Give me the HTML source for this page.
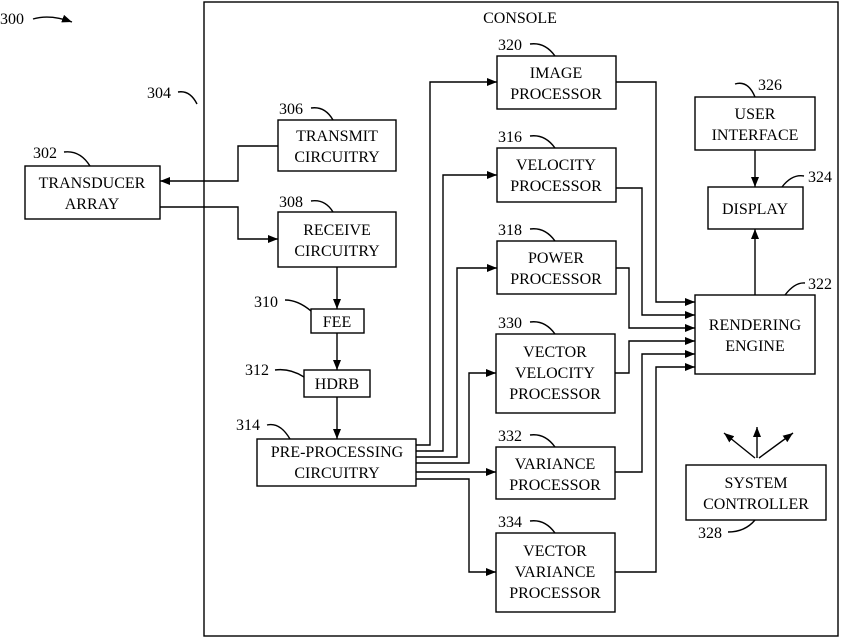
<!DOCTYPE html>
<html><head><style>
body{margin:0;background:#fff}
svg text{font-family:"Liberation Serif",serif;font-size:16px;fill:#000}
</style></head><body>
<svg width="842" height="639" viewBox="0 0 842 639" xmlns="http://www.w3.org/2000/svg">
<defs><marker id="a" markerWidth="10" markerHeight="8" refX="10" refY="4" orient="auto" markerUnits="userSpaceOnUse"><path d="M0,0 L10,4 L0,8 z" fill="#000"/></marker></defs>
<g fill="none" stroke="#000" stroke-width="1.4">
<rect x="204" y="2" width="634" height="634"/>
<rect x="25" y="166" width="135" height="53"/>
<rect x="278" y="120" width="118" height="51"/>
<rect x="278" y="212" width="118" height="55"/>
<rect x="311" y="309" width="53" height="24"/>
<rect x="304" y="370" width="66" height="27"/>
<rect x="257" y="439" width="159" height="47"/>
<rect x="497" y="56" width="119" height="53"/>
<rect x="497" y="148" width="119" height="54"/>
<rect x="497" y="241" width="119" height="53"/>
<rect x="496" y="334" width="119" height="79"/>
<rect x="496" y="447" width="119" height="52"/>
<rect x="496" y="533" width="119" height="79"/>
<rect x="695" y="97" width="120" height="53"/>
<rect x="708" y="187" width="95" height="42"/>
<rect x="695" y="295" width="120" height="79"/>
<rect x="686" y="465" width="140" height="55"/>
<path d="M278,146 H238 V181 H160" marker-end="url(#a)"/>
<path d="M160,207 H238 V239 H278" marker-end="url(#a)"/>
<path d="M337,267 V309" marker-end="url(#a)"/>
<path d="M337,333 V370" marker-end="url(#a)"/>
<path d="M337,397 V439" marker-end="url(#a)"/>
<path d="M416,445 H430 V82 H497" marker-end="url(#a)"/>
<path d="M416,451 H443 V175 H497" marker-end="url(#a)"/>
<path d="M416,457 H457 V268 H497" marker-end="url(#a)"/>
<path d="M416,463 H469 V373 H496" marker-end="url(#a)"/>
<path d="M416,472 H496" marker-end="url(#a)"/>
<path d="M416,479 H469 V572 H496" marker-end="url(#a)"/>
<path d="M616,82 H656 V302 H695" marker-end="url(#a)"/>
<path d="M616,188 H642 V315 H695" marker-end="url(#a)"/>
<path d="M616,268 H629 V328 H695" marker-end="url(#a)"/>
<path d="M615,373 H629 V341 H695" marker-end="url(#a)"/>
<path d="M615,472 H642 V354 H695" marker-end="url(#a)"/>
<path d="M615,572 H656 V367 H695" marker-end="url(#a)"/>
<path d="M755,150 V187" marker-end="url(#a)"/>
<path d="M755,295 V229" marker-end="url(#a)"/>
<path d="M755,458 L724,433" marker-end="url(#a)"/>
<path d="M757,458 V427" marker-end="url(#a)"/>
<path d="M759,458 L793,433" marker-end="url(#a)"/>
<path d="M33,19 Q50,14 72,22" marker-end="url(#a)"/>
<path d="M178,92 Q190,90 197,104"/>
<path d="M64,152 Q80,150 90,166"/>
<path d="M311,108 Q325,106 333,120"/>
<path d="M311,201 Q325,199 333,212"/>
<path d="M285,300 Q298,300 311,311"/>
<path d="M275,370 Q290,368 304,377"/>
<path d="M267,425 Q280,422 290,439"/>
<path d="M530,44 Q545,42 555,56"/>
<path d="M530,136 Q545,134 555,148"/>
<path d="M530,229 Q545,227 555,241"/>
<path d="M530,322 Q545,320 555,334"/>
<path d="M530,435 Q545,433 555,447"/>
<path d="M530,521 Q545,519 555,533"/>
<path d="M735,84 Q748,80 755,97"/>
<path d="M782,187 Q792,174 804,176"/>
<path d="M785,295 Q795,282 805,283"/>
<path d="M728,532 Q745,532 755,520"/>
</g>
<g text-anchor="middle">
<text x="520" y="23">CONSOLE</text>
<text x="92" y="188">TRANSDUCER</text><text x="92" y="209">ARRAY</text>
<text x="337" y="141">TRANSMIT</text><text x="337" y="162">CIRCUITRY</text>
<text x="337" y="235">RECEIVE</text><text x="337" y="256">CIRCUITRY</text>
<text x="337" y="327">FEE</text>
<text x="337" y="389">HDRB</text>
<text x="337" y="457">PRE-PROCESSING</text><text x="337" y="478">CIRCUITRY</text>
<text x="556" y="78">IMAGE</text><text x="556" y="99">PROCESSOR</text>
<text x="556" y="170">VELOCITY</text><text x="556" y="191">PROCESSOR</text>
<text x="556" y="263">POWER</text><text x="556" y="284">PROCESSOR</text>
<text x="555" y="357">VECTOR</text><text x="555" y="378">VELOCITY</text><text x="555" y="399">PROCESSOR</text>
<text x="555" y="469">VARIANCE</text><text x="555" y="490">PROCESSOR</text>
<text x="555" y="556">VECTOR</text><text x="555" y="577">VARIANCE</text><text x="555" y="598">PROCESSOR</text>
<text x="755" y="119">USER</text><text x="755" y="140">INTERFACE</text>
<text x="755" y="214">DISPLAY</text>
<text x="755" y="330">RENDERING</text><text x="755" y="351">ENGINE</text>
<text x="756" y="488">SYSTEM</text><text x="756" y="509">CONTROLLER</text>
</g>
<g>
<text x="0" y="24">300</text>
<text x="147" y="98">304</text>
<text x="33" y="158">302</text>
<text x="279" y="114">306</text>
<text x="279" y="207">308</text>
<text x="254" y="307">310</text>
<text x="245" y="375">312</text>
<text x="236" y="430">314</text>
<text x="498" y="50">320</text>
<text x="498" y="142">316</text>
<text x="498" y="235">318</text>
<text x="498" y="328">330</text>
<text x="498" y="441">332</text>
<text x="498" y="527">334</text>
<text x="758" y="90">326</text>
<text x="808" y="182">324</text>
<text x="808" y="289">322</text>
<text x="698" y="538">328</text>
</g>
</svg>
</body></html>
